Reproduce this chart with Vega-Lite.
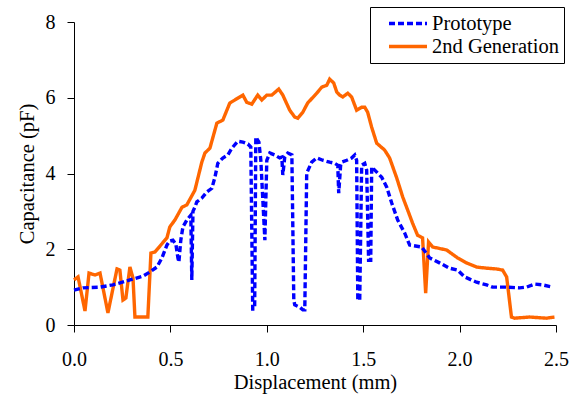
{
  "$schema": "https://vega.github.io/schema/vega-lite/v6.json",
  "width": 482,
  "height": 303,
  "autosize": {"type": "none"},
  "padding": {"left": 74, "top": 22, "right": 19, "bottom": 69},
  "background": "white",
  "config": {
    "view": {"stroke": null},
    "font": "Liberation Serif",
    "axis": {
      "domainColor": "black",
      "domainWidth": 1,
      "tickColor": "black",
      "tickWidth": 1,
      "tickSize": 7,
      "grid": false,
      "labelColor": "black",
      "titleFontWeight": "normal",
      "titleColor": "black"
    }
  },
  "datasets": {
    "curves": [
      {"s": "2nd Generation", "x": 0.000, "y": 1.19},
      {"s": "2nd Generation", "x": 0.021, "y": 1.27},
      {"s": "2nd Generation", "x": 0.057, "y": 0.37},
      {"s": "2nd Generation", "x": 0.078, "y": 1.37},
      {"s": "2nd Generation", "x": 0.109, "y": 1.32},
      {"s": "2nd Generation", "x": 0.135, "y": 1.37},
      {"s": "2nd Generation", "x": 0.176, "y": 0.32},
      {"s": "2nd Generation", "x": 0.223, "y": 1.48},
      {"s": "2nd Generation", "x": 0.238, "y": 1.45},
      {"s": "2nd Generation", "x": 0.254, "y": 0.66},
      {"s": "2nd Generation", "x": 0.269, "y": 0.71},
      {"s": "2nd Generation", "x": 0.290, "y": 1.53},
      {"s": "2nd Generation", "x": 0.306, "y": 1.24},
      {"s": "2nd Generation", "x": 0.316, "y": 0.21},
      {"s": "2nd Generation", "x": 0.383, "y": 0.21},
      {"s": "2nd Generation", "x": 0.399, "y": 1.90},
      {"s": "2nd Generation", "x": 0.420, "y": 1.93},
      {"s": "2nd Generation", "x": 0.482, "y": 2.30},
      {"s": "2nd Generation", "x": 0.497, "y": 2.59},
      {"s": "2nd Generation", "x": 0.523, "y": 2.77},
      {"s": "2nd Generation", "x": 0.560, "y": 3.11},
      {"s": "2nd Generation", "x": 0.585, "y": 3.17},
      {"s": "2nd Generation", "x": 0.627, "y": 3.56},
      {"s": "2nd Generation", "x": 0.663, "y": 4.30},
      {"s": "2nd Generation", "x": 0.679, "y": 4.54},
      {"s": "2nd Generation", "x": 0.705, "y": 4.67},
      {"s": "2nd Generation", "x": 0.741, "y": 5.33},
      {"s": "2nd Generation", "x": 0.772, "y": 5.41},
      {"s": "2nd Generation", "x": 0.808, "y": 5.86},
      {"s": "2nd Generation", "x": 0.876, "y": 6.07},
      {"s": "2nd Generation", "x": 0.896, "y": 5.88},
      {"s": "2nd Generation", "x": 0.922, "y": 5.83},
      {"s": "2nd Generation", "x": 0.953, "y": 6.07},
      {"s": "2nd Generation", "x": 0.974, "y": 5.94},
      {"s": "2nd Generation", "x": 1.000, "y": 6.07},
      {"s": "2nd Generation", "x": 1.026, "y": 6.07},
      {"s": "2nd Generation", "x": 1.062, "y": 6.23},
      {"s": "2nd Generation", "x": 1.083, "y": 6.07},
      {"s": "2nd Generation", "x": 1.119, "y": 5.67},
      {"s": "2nd Generation", "x": 1.145, "y": 5.49},
      {"s": "2nd Generation", "x": 1.161, "y": 5.46},
      {"s": "2nd Generation", "x": 1.187, "y": 5.62},
      {"s": "2nd Generation", "x": 1.212, "y": 5.86},
      {"s": "2nd Generation", "x": 1.259, "y": 6.12},
      {"s": "2nd Generation", "x": 1.285, "y": 6.28},
      {"s": "2nd Generation", "x": 1.311, "y": 6.33},
      {"s": "2nd Generation", "x": 1.326, "y": 6.49},
      {"s": "2nd Generation", "x": 1.347, "y": 6.39},
      {"s": "2nd Generation", "x": 1.363, "y": 6.15},
      {"s": "2nd Generation", "x": 1.378, "y": 6.07},
      {"s": "2nd Generation", "x": 1.394, "y": 6.02},
      {"s": "2nd Generation", "x": 1.420, "y": 6.12},
      {"s": "2nd Generation", "x": 1.440, "y": 6.02},
      {"s": "2nd Generation", "x": 1.466, "y": 5.67},
      {"s": "2nd Generation", "x": 1.492, "y": 5.75},
      {"s": "2nd Generation", "x": 1.508, "y": 5.75},
      {"s": "2nd Generation", "x": 1.523, "y": 5.62},
      {"s": "2nd Generation", "x": 1.544, "y": 5.22},
      {"s": "2nd Generation", "x": 1.570, "y": 4.80},
      {"s": "2nd Generation", "x": 1.611, "y": 4.62},
      {"s": "2nd Generation", "x": 1.637, "y": 4.41},
      {"s": "2nd Generation", "x": 1.674, "y": 3.88},
      {"s": "2nd Generation", "x": 1.705, "y": 3.38},
      {"s": "2nd Generation", "x": 1.731, "y": 3.03},
      {"s": "2nd Generation", "x": 1.756, "y": 2.69},
      {"s": "2nd Generation", "x": 1.782, "y": 2.37},
      {"s": "2nd Generation", "x": 1.808, "y": 2.30},
      {"s": "2nd Generation", "x": 1.824, "y": 0.84},
      {"s": "2nd Generation", "x": 1.839, "y": 2.19},
      {"s": "2nd Generation", "x": 1.860, "y": 2.06},
      {"s": "2nd Generation", "x": 1.933, "y": 1.98},
      {"s": "2nd Generation", "x": 1.990, "y": 1.77},
      {"s": "2nd Generation", "x": 2.036, "y": 1.64},
      {"s": "2nd Generation", "x": 2.088, "y": 1.53},
      {"s": "2nd Generation", "x": 2.140, "y": 1.50},
      {"s": "2nd Generation", "x": 2.192, "y": 1.48},
      {"s": "2nd Generation", "x": 2.223, "y": 1.45},
      {"s": "2nd Generation", "x": 2.244, "y": 1.27},
      {"s": "2nd Generation", "x": 2.269, "y": 0.21},
      {"s": "2nd Generation", "x": 2.285, "y": 0.18},
      {"s": "2nd Generation", "x": 2.363, "y": 0.21},
      {"s": "2nd Generation", "x": 2.451, "y": 0.18},
      {"s": "2nd Generation", "x": 2.492, "y": 0.21},

      {"s": "Prototype", "x": 0.000, "y": 0.92},
      {"s": "Prototype", "x": 0.047, "y": 0.98},
      {"s": "Prototype", "x": 0.135, "y": 1.00},
      {"s": "Prototype", "x": 0.202, "y": 1.06},
      {"s": "Prototype", "x": 0.238, "y": 1.11},
      {"s": "Prototype", "x": 0.290, "y": 1.19},
      {"s": "Prototype", "x": 0.358, "y": 1.29},
      {"s": "Prototype", "x": 0.394, "y": 1.40},
      {"s": "Prototype", "x": 0.430, "y": 1.53},
      {"s": "Prototype", "x": 0.456, "y": 1.77},
      {"s": "Prototype", "x": 0.482, "y": 2.11},
      {"s": "Prototype", "x": 0.497, "y": 2.22},
      {"s": "Prototype", "x": 0.513, "y": 2.24},
      {"s": "Prototype", "x": 0.528, "y": 2.14},
      {"s": "Prototype", "x": 0.539, "y": 1.77},
      {"s": "Prototype", "x": 0.544, "y": 1.66},
      {"s": "Prototype", "x": 0.554, "y": 2.24},
      {"s": "Prototype", "x": 0.565, "y": 2.59},
      {"s": "Prototype", "x": 0.585, "y": 2.77},
      {"s": "Prototype", "x": 0.606, "y": 2.90},
      {"s": "Prototype", "x": 0.611, "y": 1.19},
      {"s": "Prototype", "x": 0.617, "y": 3.00},
      {"s": "Prototype", "x": 0.627, "y": 3.11},
      {"s": "Prototype", "x": 0.637, "y": 3.25},
      {"s": "Prototype", "x": 0.663, "y": 3.35},
      {"s": "Prototype", "x": 0.689, "y": 3.51},
      {"s": "Prototype", "x": 0.715, "y": 3.61},
      {"s": "Prototype", "x": 0.731, "y": 3.90},
      {"s": "Prototype", "x": 0.746, "y": 4.27},
      {"s": "Prototype", "x": 0.772, "y": 4.41},
      {"s": "Prototype", "x": 0.798, "y": 4.49},
      {"s": "Prototype", "x": 0.819, "y": 4.67},
      {"s": "Prototype", "x": 0.850, "y": 4.85},
      {"s": "Prototype", "x": 0.876, "y": 4.83},
      {"s": "Prototype", "x": 0.902, "y": 4.78},
      {"s": "Prototype", "x": 0.917, "y": 4.70},
      {"s": "Prototype", "x": 0.927, "y": 0.42},
      {"s": "Prototype", "x": 0.937, "y": 0.42},
      {"s": "Prototype", "x": 0.943, "y": 4.96},
      {"s": "Prototype", "x": 0.959, "y": 4.83},
      {"s": "Prototype", "x": 0.969, "y": 4.35},
      {"s": "Prototype", "x": 0.990, "y": 2.24},
      {"s": "Prototype", "x": 1.000, "y": 4.35},
      {"s": "Prototype", "x": 1.016, "y": 4.54},
      {"s": "Prototype", "x": 1.041, "y": 4.49},
      {"s": "Prototype", "x": 1.067, "y": 4.41},
      {"s": "Prototype", "x": 1.078, "y": 4.43},
      {"s": "Prototype", "x": 1.083, "y": 3.96},
      {"s": "Prototype", "x": 1.093, "y": 4.43},
      {"s": "Prototype", "x": 1.109, "y": 4.54},
      {"s": "Prototype", "x": 1.130, "y": 4.49},
      {"s": "Prototype", "x": 1.140, "y": 0.66},
      {"s": "Prototype", "x": 1.145, "y": 0.53},
      {"s": "Prototype", "x": 1.171, "y": 0.47},
      {"s": "Prototype", "x": 1.187, "y": 0.40},
      {"s": "Prototype", "x": 1.197, "y": 0.40},
      {"s": "Prototype", "x": 1.207, "y": 4.01},
      {"s": "Prototype", "x": 1.233, "y": 4.30},
      {"s": "Prototype", "x": 1.259, "y": 4.41},
      {"s": "Prototype", "x": 1.290, "y": 4.35},
      {"s": "Prototype", "x": 1.326, "y": 4.30},
      {"s": "Prototype", "x": 1.352, "y": 4.27},
      {"s": "Prototype", "x": 1.368, "y": 4.22},
      {"s": "Prototype", "x": 1.373, "y": 3.48},
      {"s": "Prototype", "x": 1.383, "y": 4.22},
      {"s": "Prototype", "x": 1.389, "y": 4.30},
      {"s": "Prototype", "x": 1.415, "y": 4.35},
      {"s": "Prototype", "x": 1.440, "y": 4.41},
      {"s": "Prototype", "x": 1.456, "y": 4.49},
      {"s": "Prototype", "x": 1.466, "y": 4.35},
      {"s": "Prototype", "x": 1.472, "y": 0.66},
      {"s": "Prototype", "x": 1.482, "y": 0.66},
      {"s": "Prototype", "x": 1.492, "y": 4.22},
      {"s": "Prototype", "x": 1.508, "y": 4.27},
      {"s": "Prototype", "x": 1.518, "y": 4.09},
      {"s": "Prototype", "x": 1.528, "y": 1.71},
      {"s": "Prototype", "x": 1.539, "y": 1.71},
      {"s": "Prototype", "x": 1.544, "y": 4.17},
      {"s": "Prototype", "x": 1.560, "y": 4.09},
      {"s": "Prototype", "x": 1.596, "y": 3.90},
      {"s": "Prototype", "x": 1.622, "y": 3.64},
      {"s": "Prototype", "x": 1.648, "y": 3.22},
      {"s": "Prototype", "x": 1.679, "y": 2.77},
      {"s": "Prototype", "x": 1.715, "y": 2.43},
      {"s": "Prototype", "x": 1.741, "y": 2.11},
      {"s": "Prototype", "x": 1.803, "y": 2.06},
      {"s": "Prototype", "x": 1.845, "y": 1.77},
      {"s": "Prototype", "x": 1.896, "y": 1.64},
      {"s": "Prototype", "x": 1.948, "y": 1.50},
      {"s": "Prototype", "x": 1.990, "y": 1.45},
      {"s": "Prototype", "x": 2.026, "y": 1.27},
      {"s": "Prototype", "x": 2.088, "y": 1.13},
      {"s": "Prototype", "x": 2.140, "y": 1.06},
      {"s": "Prototype", "x": 2.171, "y": 1.00},
      {"s": "Prototype", "x": 2.244, "y": 1.00},
      {"s": "Prototype", "x": 2.311, "y": 0.98},
      {"s": "Prototype", "x": 2.347, "y": 1.00},
      {"s": "Prototype", "x": 2.389, "y": 1.08},
      {"s": "Prototype", "x": 2.430, "y": 1.06},
      {"s": "Prototype", "x": 2.482, "y": 1.00}
    ]
  },
  "data": {"name": "curves"},
  "mark": {"type": "line", "strokeWidth": 3.4, "strokeCap": "butt", "strokeJoin": "miter"},
  "encoding": {
    "x": {
      "field": "x",
      "type": "quantitative",
      "scale": {"domain": [0, 2.5], "nice": false, "zero": false},
      "axis": {
        "title": "Displacement (mm)",
        "values": [0, 0.5, 1, 1.5, 2, 2.5],
        "format": ".1f",
        "labelFont": "Liberation Serif",
        "labelFontSize": 20,
        "titleFont": "Liberation Serif",
        "titleFontSize": 20.5,
        "labelPadding": 17,
        "labelFlush": false,
        "titleX": 241,
        "titleY": 63,
        "titleBaseline": "alphabetic",
        "titleAnchor": "middle",
        "titleAlign": "center"
      }
    },
    "y": {
      "field": "y",
      "type": "quantitative",
      "scale": {"domain": [0, 8], "nice": false},
      "axis": {
        "title": "Capacitance (pF)",
        "values": [0, 2, 4, 6, 8],
        "format": "d",
        "labelFont": "Liberation Serif",
        "labelFontSize": 20,
        "titleFont": "Liberation Serif",
        "titleFontSize": 20.5,
        "labelPadding": 12,
        "labelFlush": false,
        "titleX": -41,
        "titleY": 151.5,
        "titleAngle": -90,
        "titleBaseline": "alphabetic",
        "titleAlign": "center"
      }
    },
    "color": {
      "field": "s",
      "type": "nominal",
      "title": null,
      "scale": {"domain": ["Prototype", "2nd Generation"], "range": ["#0000FF", "#FF6600"]},
      "legend": {
        "orient": "none",
        "legendX": 296,
        "legendY": -15,
        "padding": 5,
        "strokeColor": "black",
        "fillColor": "white",
        "symbolType": "stroke",
        "symbolSize": 1444,
        "symbolStrokeWidth": 3.4,
        "symbolOffset": 12,
        "labelOffset": 3,
        "labelFont": "Liberation Serif",
        "labelFontSize": 20.5,
        "labelColor": "black",
        "rowPadding": 0,
        "clipHeight": 23
      }
    },
    "strokeDash": {
      "field": "s",
      "type": "nominal",
      "title": null,
      "scale": {"domain": ["Prototype", "2nd Generation"], "range": [[6, 3], [1, 0]]},
      "legend": {
        "orient": "none",
        "legendX": 296,
        "legendY": -15,
        "padding": 5,
        "strokeColor": "black",
        "fillColor": "white",
        "symbolType": "stroke",
        "symbolSize": 1444,
        "symbolStrokeWidth": 3.4,
        "symbolOffset": 12,
        "labelOffset": 3,
        "labelFont": "Liberation Serif",
        "labelFontSize": 20.5,
        "labelColor": "black",
        "rowPadding": 0,
        "clipHeight": 23
      }
    }
  }
}
